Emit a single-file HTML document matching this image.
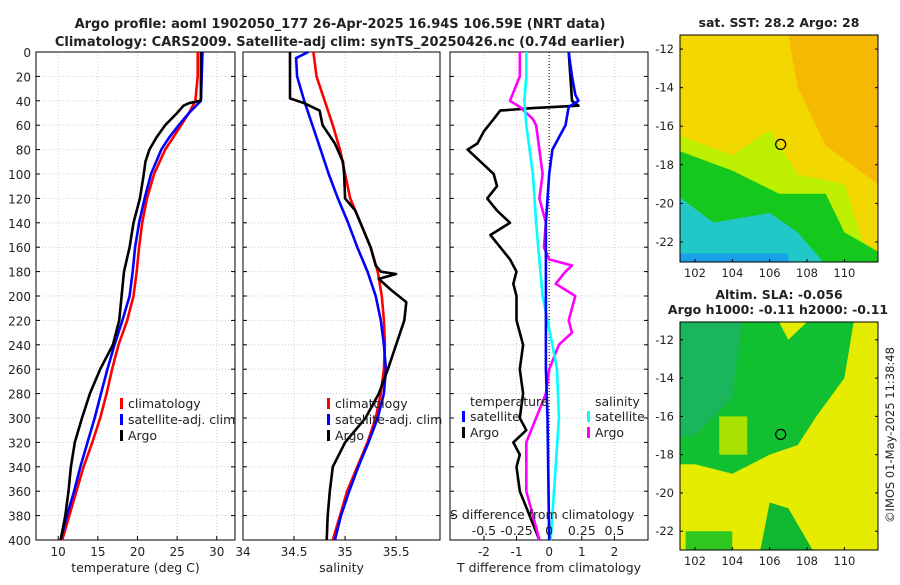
<!DOCTYPE html>
<html><head><meta charset="utf-8"><style>
body{margin:0;background:#fff;font-family:"Liberation Sans","DejaVu Sans",sans-serif;}
svg text{font-family:"DejaVu Sans","Liberation Sans",sans-serif;fill:#222;}
</style></head><body>
<svg id="c" width="900" height="580" xmlns="http://www.w3.org/2000/svg">
<text x="340" y="28" text-anchor="middle" font-size="13" font-weight="bold">Argo profile: aoml 1902050_177 26-Apr-2025 16.94S 106.59E (NRT data)</text>
<text x="340" y="46" text-anchor="middle" font-size="13" font-weight="bold">Climatology: CARS2009. Satellite-adj clim: synTS_20250426.nc (0.74d earlier)</text>
<g id="maps"></g>
<g id="panels"></g>
</svg>
<script>
const depthTicks=[0,20,40,60,80,100,120,140,160,180,200,220,240,260,280,300,320,340,360,380,400];
const tTicks=[10,15,20,25,30];
const sTicks=[34,34.5,35,35.5];
const dTicks=[-2,-1,0,1,2];
const sdTicks=[-0.5,-0.25,0,0.25,0.5];
const tClim=[[0,27.6],[20,27.6],[40,27.3],[50,26.5],[60,25.5],[70,24.5],[80,23.5],[100,22.1],[120,21.2],[140,20.6],[160,20.2],[180,19.9],[200,19.5],[220,18.7],[240,17.6],[260,16.8],[280,16.1],[300,15.3],[320,14.3],[340,13.2],[360,12.3],[380,11.4],[400,10.5]];
const tSat=[[0,28.2],[20,28.1],[40,28],[50,26.5],[60,25.2],[70,24],[80,23],[100,21.7],[120,20.9],[140,20.2],[160,19.7],[180,19.4],[200,19],[220,18.1],[240,17.1],[260,16.2],[280,15.4],[300,14.6],[320,13.7],[340,12.8],[360,12],[380,11.1],[400,10.3]];
const tArgo=[[0,28],[38,28],[40,27.9],[42,26.5],[44,25.8],[50,25],[60,23.5],[70,22.4],[80,21.5],[90,21],[100,20.8],[120,20.3],[140,19.5],[160,19],[180,18.3],[200,18],[220,17.7],[240,16.9],[260,15.3],[280,14],[300,13],[320,12.1],[340,11.6],[360,11.3],[380,10.9],[400,10.3]];
const sClim=[[0,34.69],[20,34.72],[40,34.8],[60,34.88],[80,34.95],[100,35.0],[120,35.05],[140,35.15],[160,35.25],[180,35.32],[200,35.36],[220,35.38],[240,35.39],[260,35.38],[280,35.35],[300,35.3],[320,35.22],[340,35.12],[360,35.02],[380,34.95],[400,34.88]];
const sSat=[[0,34.64],[5,34.52],[20,34.53],[40,34.6],[60,34.68],[80,34.76],[100,34.84],[120,34.93],[140,35.03],[160,35.12],[180,35.22],[200,35.3],[220,35.35],[240,35.38],[260,35.4],[280,35.38],[300,35.32],[320,35.23],[340,35.13],[360,35.04],[380,34.96],[400,34.9]];
const sArgo=[[0,34.46],[38,34.46],[42,34.6],[48,34.75],[60,34.78],[75,34.9],[90,34.98],[100,34.99],[120,35.0],[130,35.1],[140,35.15],[160,35.25],[175,35.3],[180,35.35],[182,35.5],[186,35.33],[195,35.45],[205,35.6],[220,35.58],[240,35.5],[260,35.42],[280,35.33],[300,35.2],[320,35.0],[340,34.88],[360,34.85],[380,34.83],[400,34.82]];
const dtArgo=[[0,0.6],[40,0.7],[44,0.9],[46,-0.5],[48,-1.5],[55,-1.7],[65,-2.0],[75,-2.2],[80,-2.5],[90,-2.1],[100,-1.7],[110,-1.6],[120,-1.9],[130,-1.6],[140,-1.2],[150,-1.8],[160,-1.5],[170,-1.2],[180,-1.0],[190,-1.1],[200,-1.0],[220,-1.0],[240,-0.8],[260,-0.9],[280,-0.8],[300,-0.9],[310,-0.7],[320,-1.1],[330,-0.9],[340,-1.0],[360,-0.9],[380,-0.6],[400,-0.3]];
const dtSat=[[0,0.6],[20,0.7],[35,0.8],[40,0.9],[45,0.6],[60,0.5],[80,0.1],[100,0.0],[140,-0.1],[200,-0.1],[260,-0.1],[300,-0.05],[400,0]];
const dsSat=[[0,-0.175],[20,-0.175],[40,-0.19],[60,-0.175],[80,-0.15],[100,-0.125],[140,-0.1],[200,-0.05],[240,0.025],[260,0.06],[300,0.075],[340,0.05],[400,0.012]];
const dsArgo=[[0,-0.225],[20,-0.225],[40,-0.3],[45,-0.225],[55,-0.125],[60,-0.1],[80,-0.075],[100,-0.05],[120,-0.075],[140,-0.025],[160,-0.04],[170,0],[175,0.175],[180,0.125],[190,0.05],[200,0.2],[210,0.175],[220,0.15],[230,0.175],[240,0.075],[260,0],[280,-0.025],[300,-0.1],[320,-0.175],[340,-0.175],[360,-0.175],[380,-0.125],[400,-0.075]];
const NS="http://www.w3.org/2000/svg";
const P=document.getElementById('panels');
function el(t,a,p){const e=document.createElementNS(NS,t);for(const k in a)e.setAttribute(k,a[k]);(p||P).appendChild(e);return e;}
const Y0=52,Y1=540;const yD=d=>Y0+d/400*(Y1-Y0);
function panel(x0,x1,dom,ticks,name,xlabel,showY){
 const g=el('g',{});
 
 
 const xs=v=>x0+(v-dom[0])/(dom[1]-dom[0])*(x1-x0);
 for(const d of depthTicks){const y=yD(d);el('line',{x1:x0,x2:x1,y1:y,y2:y,stroke:'#b8c4ee','stroke-width':0.8,'stroke-dasharray':'1,2'},g);
  el('line',{x1:x0,x2:x0+4,y1:y,y2:y,stroke:'#000'},g);el('line',{x1:x1-4,x2:x1,y1:y,y2:y,stroke:'#000'},g);
  if(showY){const t=el('text',{x:x0-5,y:y+5,'text-anchor':'end','font-size':12},g);t.textContent=d;}}
 for(const v of ticks){const x=xs(v);el('line',{x1:x,x2:x,y1:Y0,y2:Y1,stroke:'#e8b8c0','stroke-width':0.8,'stroke-dasharray':'1,2'},g);
  el('line',{x1:x,x2:x,y1:Y1-4,y2:Y1,stroke:'#000'},g);
  const t=el('text',{x:x,y:556,'text-anchor':'middle','font-size':12},g);t.textContent=v;}
 el('rect',{x:x0,y:Y0,width:x1-x0,height:Y1-Y0,fill:'none',stroke:'#000','stroke-width':1},g);
 const t=el('text',{x:(x0+x1)/2,y:572,'text-anchor':'middle','font-size':12.5},g);t.textContent=xlabel;
 return {g,xs};
}
function line(pan,data,color,name,w){const pts=data.map(p=>pan.xs(p[1]).toFixed(1)+','+yD(p[0]).toFixed(1)).join(' ');
 const l=el('polyline',{points:pts,fill:'none',stroke:color,'stroke-width':w||2.6,'stroke-linejoin':'round'},pan.g);
 
 }
function legend(g,x,y,items){items.forEach((it,i)=>{const yy=y+i*16;el('rect',{x:x,y:yy-10,width:3,height:11,fill:it[1]},g);const t=el('text',{x:x+8,y:yy,'font-size':12.5},g);t.textContent=it[0];});}
const p1=panel(36,235,[7.2,32.3],tTicks,'temperature-panel','temperature (deg C)',true);
line(p1,tClim,'#f00','temperature-climatology-line');line(p1,tSat,'#00f','temperature-satellite-line');line(p1,tArgo,'#000','temperature-argo-line');
legend(p1.g,120,408,[['climatology','#f00'],['satellite-adj. clim','#00f'],['Argo','#000']]);
const p2=panel(243,440,[34,35.93],sTicks,'salinity-panel','salinity',false);
line(p2,sClim,'#f00','salinity-climatology-line');line(p2,sSat,'#00f','salinity-satellite-line');line(p2,sArgo,'#000','salinity-argo-line');
legend(p2.g,327,408,[['climatology','#f00'],['satellite-adj. clim','#00f'],['Argo','#000']]);
const p3=panel(450,648,[-3.04,3.03],dTicks,'difference-panel','T difference from climatology',false);
el('line',{x1:p3.xs(0),x2:p3.xs(0),y1:Y0,y2:Y1,stroke:'#000','stroke-width':1,'stroke-dasharray':'1,2'},p3.g);
const p3s={g:p3.g,xs:v=>p3.xs(v*4)};
line(p3,dtArgo,'#000','temp-diff-argo-line');line(p3s,dsArgo,'#f0f','sal-diff-argo-line');line(p3s,dsSat,'#0ff','sal-diff-satellite-line');line(p3,dtSat,'#00f','temp-diff-satellite-line');
let t=el('text',{x:470,y:406,'font-size':12.5},p3.g);t.textContent='temperature';
legend(p3.g,462,421,[['satellite','#00f'],['Argo','#000']]);
t=el('text',{x:595,y:406,'font-size':12.5},p3.g);t.textContent='salinity';
legend(p3.g,587,421,[['satellite','#0ff'],['Argo','#f0f']]);
t=el('text',{x:450,y:519,'font-size':12.5},p3.g);t.textContent='S difference from climatology';
for(const v of sdTicks){const tt=el('text',{x:p3s.xs(v),y:535,'text-anchor':'middle','font-size':12.5},p3.g);tt.textContent=v;}

// maps
const M=document.getElementById('maps');
function map(y0,y1,latTop,latBot,name,title,title2,kind){
 const x0=680,x1=878;const g=el('g',{},M);
 
 
 const lx=v=>x0+(v-101.2)/(111.8-101.2)*(x1-x0);
 const ly=v=>y0+(latTop-v)/(latTop-latBot)*(y1-y0);
 const cid='clip'+name;const cp=el('clipPath',{id:cid},g);el('rect',{x:x0,y:y0,width:x1-x0,height:y1-y0},cp);
 const c=el('g',{'clip-path':'url(#'+cid+')'},g);
 if(kind==='sst'){
  el('rect',{x:x0,y:y0,width:x1-x0,height:y1-y0,fill:'#f2d800'},c);
  el('path',{d:`M${lx(107)} ${y0} L${x1} ${y0} L${x1} ${ly(-19)} L${lx(109)} ${ly(-17)} L${lx(107.5)} ${ly(-14)}Z`,fill:'#f5b400',opacity:0.85},c);
  el('path',{d:`M${x0} ${ly(-16.5)} L${lx(104)} ${ly(-17.5)} L${lx(106)} ${ly(-16.2)} L${lx(107.5)} ${ly(-18.5)} L${lx(110)} ${ly(-19)} L${lx(111)} ${ly(-22)} L${x1} ${ly(-22.5)} L${x1} ${y1} L${x0} ${y1}Z`,fill:'#bdf000'},c);
  el('path',{d:`M${x0} ${ly(-17.3)} L${lx(104)} ${ly(-18.3)} L${lx(106.5)} ${ly(-19.5)} L${lx(109)} ${ly(-19.5)} L${lx(110)} ${ly(-21.5)} L${x1} ${ly(-22.5)} L${x1} ${y1} L${x0} ${y1}Z`,fill:'#14c81e'},c);
  el('path',{d:`M${x0} ${ly(-19.7)} L${lx(103)} ${ly(-21)} L${lx(106)} ${ly(-20.5)} L${lx(107.5)} ${ly(-21.5)} L${lx(109)} ${ly(-23.2)} L${x0} ${y1}Z`,fill:'#20c8c8'},c);
  el('rect',{x:lx(101.2),y:ly(-22.6),width:lx(107)-lx(101.2),height:y1-ly(-22.6),fill:'#1aa0e8'},c);
 }else{
  el('rect',{x:x0,y:y0,width:x1-x0,height:y1-y0,fill:'#e6ec00'},c);
  el('path',{d:`M${x0} ${y0} L${lx(106.5)} ${y0} L${lx(107)} ${ly(-12)} L${lx(108)} ${y0} L${lx(110.5)} ${y0} L${lx(110)} ${ly(-14)} L${lx(108.5)} ${ly(-16)} L${lx(107.5)} ${ly(-17.5)} L${lx(106)} ${ly(-18)} L${lx(104)} ${ly(-19)} L${lx(102)} ${ly(-18.5)} L${x0} ${ly(-18.5)}Z`,fill:'#10c030'},c);
  el('path',{d:`M${x0} ${y0} L${lx(104.5)} ${y0} L${lx(104)} ${ly(-15)} L${lx(102)} ${ly(-17)} L${x0} ${ly(-17)}Z`,fill:'#20b070',opacity:0.7},c);
  el('rect',{x:lx(103.3),y:ly(-16),width:lx(104.8)-lx(103.3),height:ly(-18)-ly(-16),fill:'#a8e000'},c);
  el('path',{d:`M${lx(105.5)} ${y1} L${lx(106)} ${ly(-20.5)} L${lx(107)} ${ly(-20.8)} L${lx(108.3)} ${y1}Z`,fill:'#10b830'},c);
  el('rect',{x:lx(101.5),y:ly(-22),width:lx(104)-lx(101.5),height:y1-ly(-22),fill:'#30c820'},c);
 }
 el('circle',{cx:lx(106.59),cy:ly(-16.94),r:5,fill:'none',stroke:'#000','stroke-width':1.2},g);
 el('rect',{x:x0,y:y0,width:x1-x0,height:y1-y0,fill:'none',stroke:'#000'},g);
 for(const la of [-12,-14,-16,-18,-20,-22]){const y=ly(la);el('line',{x1:x0,x2:x0+3,y1:y,y2:y,stroke:'#000'},g);el('line',{x1:x1-3,x2:x1,y1:y,y2:y,stroke:'#000'},g);
  const tt=el('text',{x:x0-6,y:y+4,'text-anchor':'end','font-size':11.5},g);tt.textContent=la;}
 for(const lo of [102,104,106,108,110]){const x=lx(lo);el('line',{x1:x,x2:x,y1:y1-3,y2:y1,stroke:'#000'},g);const tt=el('text',{x:x,y:y1+15,'text-anchor':'middle','font-size':11.5},g);tt.textContent=lo;}
 let tt=el('text',{x:(x0+x1)/2,y:title2?y0-23:y0-8,'text-anchor':'middle','font-size':12.5,'font-weight':'bold'},g);tt.textContent=title;
 if(title2){tt=el('text',{x:778,y:y0-8,'text-anchor':'middle','font-size':12.5,'font-weight':'bold'},g);tt.textContent=title2;}
}
map(35,262,-11.27,-23.04,'sst-map','sat. SST: 28.2 Argo: 28',null,'sst');
map(322,550,-11.07,-22.98,'sla-map','Altim. SLA: -0.056','Argo h1000: -0.11 h2000: -0.11','sla');
const cr=el('text',{x:894,y:435,'font-size':11.5,transform:'rotate(-90 894 435)','text-anchor':'middle'},M);


cr.textContent='©IMOS 01-May-2025 11:38:48';
</script>
</body></html>
